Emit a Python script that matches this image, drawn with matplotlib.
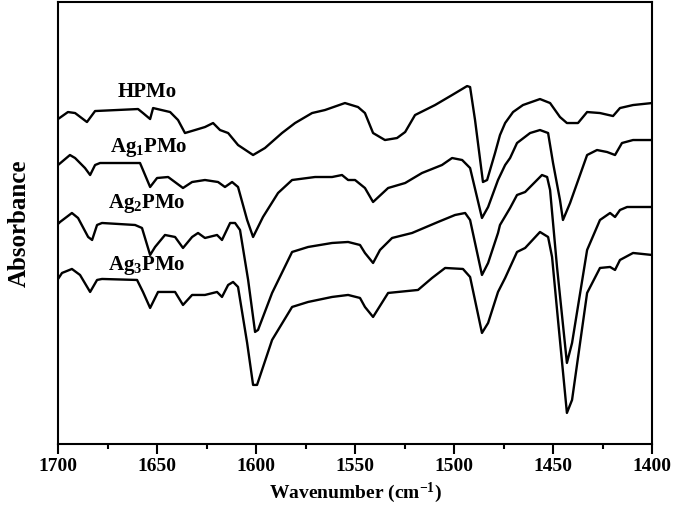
import matplotlib
matplotlib.use('Agg')
import matplotlib.pyplot as plt
from matplotlib.ticker import MultipleLocator

plt.rcParams['font.family'] = 'Liberation Serif'
plt.rcParams['font.weight'] = 'bold'
plt.rcParams['mathtext.fontset'] = 'custom'
plt.rcParams['mathtext.rm'] = 'Liberation Serif:bold'
plt.rcParams['mathtext.it'] = 'Liberation Serif:bold'
plt.rcParams['mathtext.bf'] = 'Liberation Serif:bold'
plt.rcParams['mathtext.default'] = 'rm'

# FTIR spectra (wavenumber in cm-1, absorbance in a.u., offset stacked)
hpmo_wn = [1700, 1695, 1691.4, 1685.4, 1681.3, 1659.6, 1657.1, 1653.5, 1652.0, 1643.4,
           1639.4, 1635.9, 1630.8, 1625.8, 1621.7, 1618.2, 1614.1, 1609.1, 1601.5, 1595.5,
           1586.9, 1580.3, 1571.7, 1565.2, 1555.1, 1548.5, 1545.0, 1540.9, 1534.9, 1528.8,
           1524.7, 1519.7, 1509.6, 1501.0, 1493.4, 1491.9, 1489.4, 1485.4, 1483.3, 1479.3,
           1476.8, 1474.2, 1470.2, 1465.2, 1456.6, 1451.5, 1446.5, 1443.0, 1437.4, 1432.8,
           1426.3, 1419.7, 1416.2, 1409.6, 1400]
hpmo_ab = [3.31, 3.38, 3.37, 3.28, 3.39, 3.41, 3.37, 3.31, 3.42, 3.38,
           3.30, 3.17, 3.20, 3.23, 3.27, 3.20, 3.17, 3.05, 2.95, 3.02,
           3.17, 3.27, 3.37, 3.40, 3.47, 3.43, 3.37, 3.17, 3.10, 3.12,
           3.18, 3.35, 3.45, 3.55, 3.64, 3.63, 3.30, 2.68, 2.70, 2.97,
           3.15, 3.27, 3.38, 3.45, 3.51, 3.47, 3.33, 3.27, 3.27, 3.38,
           3.37, 3.34, 3.42, 3.45, 3.47]

ag1_wn = [1700, 1694, 1691.4, 1686.4, 1683.8, 1681.3, 1678.8, 1658.6, 1653.5, 1650.0,
          1644.4, 1636.9, 1632.3, 1625.8, 1619.2, 1615.7, 1612.1, 1609.1, 1604.5, 1601.5,
          1596.5, 1588.9, 1581.8, 1570.2, 1561.6, 1556.6, 1553.5, 1550.0, 1545.0, 1540.9,
          1533.3, 1524.7, 1516.2, 1506.1, 1501.0, 1495.9, 1491.9, 1485.9, 1482.8, 1477.8,
          1474.2, 1471.7, 1468.2, 1461.6, 1456.6, 1452.5, 1450.0, 1446.5, 1445.0, 1441.4,
          1432.8, 1427.8, 1422.7, 1418.7, 1415.2, 1409.6, 1400]
ag1_ab = [2.85, 2.95, 2.92, 2.82, 2.75, 2.85, 2.87, 2.87, 2.63, 2.72,
          2.73, 2.62, 2.68, 2.70, 2.68, 2.63, 2.68, 2.63, 2.30, 2.13,
          2.33, 2.57, 2.70, 2.73, 2.73, 2.75, 2.70, 2.70, 2.62, 2.48,
          2.62, 2.67, 2.77, 2.85, 2.92, 2.90, 2.82, 2.32, 2.43, 2.70,
          2.85, 2.92, 3.07, 3.17, 3.20, 3.17, 2.87, 2.50, 2.30, 2.47,
          2.95, 3.00, 2.98, 2.95, 3.07, 3.10, 3.10]

ag2_wn = [1700, 1699, 1693, 1689.9, 1684.8, 1682.8, 1680.3, 1677.8, 1661.1, 1657.6,
          1653.5, 1651.0, 1646.0, 1640.9, 1636.9, 1632.3, 1629.3, 1625.8, 1619.7, 1617.2,
          1613.1, 1610.6, 1608.1, 1604.0, 1600.5, 1599.0, 1591.9, 1581.8, 1573.7, 1561.6,
          1553.5, 1547.5, 1545.0, 1540.9, 1537.4, 1531.3, 1521.2, 1508.1, 1499.5, 1494.4,
          1491.9, 1485.9, 1482.8, 1477.8, 1476.8, 1471.7, 1468.2, 1464.1, 1455.6, 1453.0,
          1451.5, 1448.0, 1443.0, 1440.4, 1432.8, 1426.3, 1421.2, 1418.7, 1416.2, 1412.6,
          1400]
ag2_ab = [2.26, 2.28, 2.37, 2.32, 2.13, 2.10, 2.25, 2.27, 2.25, 2.22,
          1.95, 2.03, 2.15, 2.13, 2.02, 2.13, 2.17, 2.12, 2.15, 2.10,
          2.27, 2.27, 2.20, 1.70, 1.18, 1.20, 1.57, 1.98, 2.03, 2.07,
          2.08, 2.05, 1.97, 1.87, 2.00, 2.12, 2.17, 2.28, 2.35, 2.37,
          2.30, 1.75, 1.87, 2.17, 2.25, 2.42, 2.55, 2.58, 2.75, 2.73,
          2.60, 1.83, 0.87, 1.07, 2.00, 2.30, 2.37, 2.33, 2.40, 2.43,
          2.43]

ag3_wn = [1700, 1698, 1693, 1688.9, 1683.8, 1680.3, 1677.8, 1660.1, 1657.1, 1653.5,
          1649.5, 1640.9, 1636.9, 1632.3, 1625.8, 1619.7, 1617.2, 1614.1, 1611.6, 1609.1,
          1604.5, 1601.5, 1599.5, 1591.9, 1581.8, 1573.7, 1561.6, 1553.5, 1547.5, 1545.0,
          1540.9, 1533.3, 1518.2, 1511.1, 1504.5, 1495.5, 1491.9, 1485.9, 1482.8, 1477.8,
          1474.2, 1468.2, 1464.1, 1456.6, 1452.5, 1450.5, 1447.5, 1443.0, 1440.4, 1432.8,
          1426.3, 1421.2, 1418.7, 1416.2, 1409.6, 1400]
ag3_ab = [1.71, 1.77, 1.81, 1.75, 1.58, 1.70, 1.71, 1.70, 1.58, 1.42,
          1.58, 1.58, 1.45, 1.55, 1.55, 1.58, 1.53, 1.65, 1.68, 1.63,
          1.07, 0.65, 0.65, 1.10, 1.43, 1.48, 1.53, 1.55, 1.52, 1.43,
          1.33, 1.57, 1.60, 1.72, 1.82, 1.81, 1.73, 1.17, 1.27, 1.58,
          1.72, 1.98, 2.02, 2.18, 2.13, 1.93, 1.30, 0.37, 0.50, 1.57,
          1.82, 1.83, 1.80, 1.90, 1.97, 1.95]

labels = ['HPMo', r'Ag$_1$PMo', r'Ag$_2$PMo', r'Ag$_3$PMo']
label_wn = [1655, 1654, 1655, 1655]
label_ab = [3.58, 3.03, 2.46, 1.84]

fig = plt.figure(figsize=(6.75, 5.21), dpi=100)
ax = fig.add_axes([0.086, 0.148, 0.880, 0.848])

for wn, ab in [(hpmo_wn, hpmo_ab), (ag1_wn, ag1_ab), (ag2_wn, ag2_ab), (ag3_wn, ag3_ab)]:
    ax.plot(wn, ab, color='black', lw=1.7)

for lab, x, y in zip(labels, label_wn, label_ab):
    ax.text(x, y, lab, fontsize=15, fontweight='bold', ha='center', va='center')

ax.set_xlim(1700, 1400)
ax.set_ylim(0.06, 4.48)
ax.xaxis.set_major_locator(MultipleLocator(50))
ax.xaxis.set_minor_locator(MultipleLocator(25))
ax.tick_params(axis='x', which='major', direction='out', length=7, width=1.5,
               labelsize=14, pad=3)
ax.tick_params(axis='x', which='minor', direction='out', length=3.5, width=1.5)
ax.set_yticks([])
for lab in ax.get_xticklabels():
    lab.set_fontweight('bold')
for sp in ax.spines.values():
    sp.set_linewidth(1.5)

ax.set_xlabel(r'Wavenumber (cm$^{-1}$)', fontsize=14, fontweight='bold', labelpad=4)
ax.set_ylabel('Absorbance', fontsize=18, fontweight='bold', labelpad=20)

fig.savefig('out.png', dpi=100)
